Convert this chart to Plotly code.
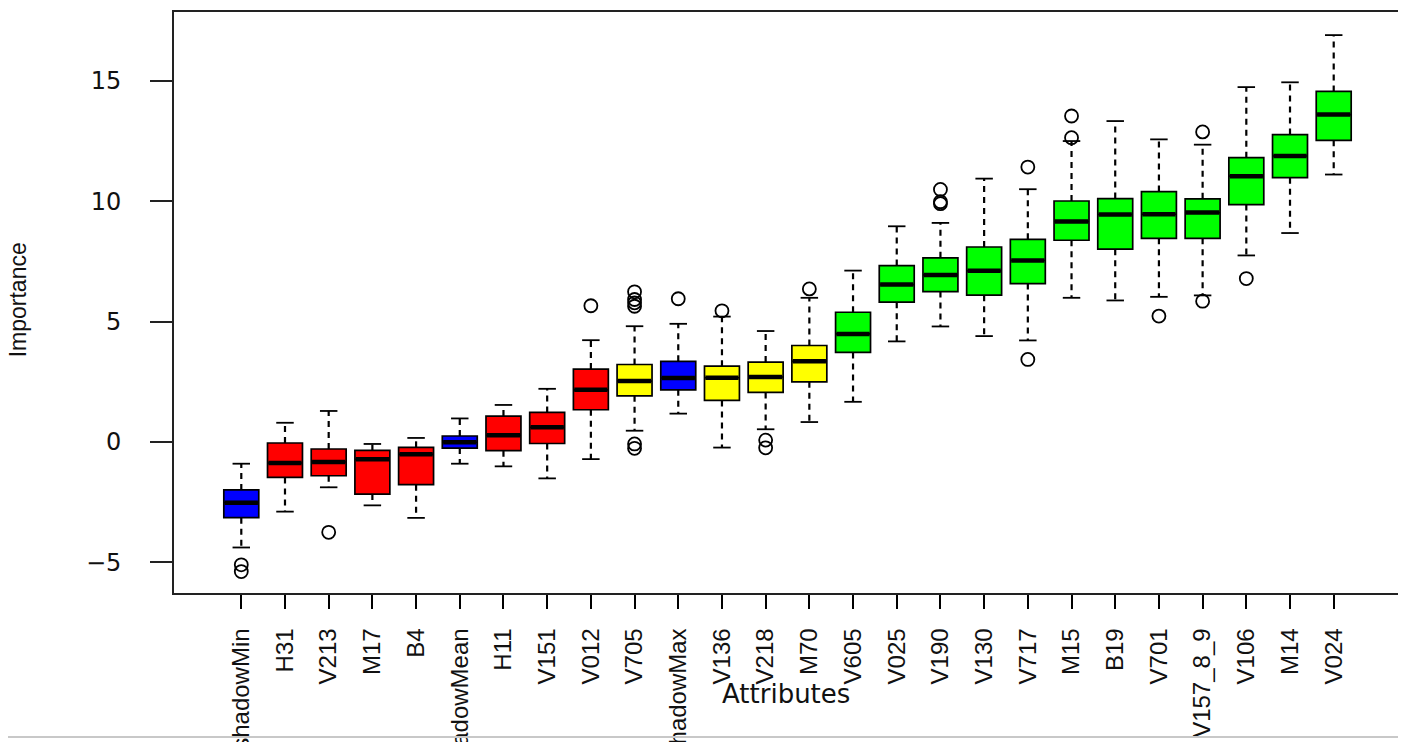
import plotly.graph_objects as go

# ---------------- data ----------------
attributes = ["shadowMin", "H31", "V213", "M17", "B4", "shadowMean", "H11", "V151",
              "V012", "V705", "shadowMax", "V136", "V218", "M70", "V605", "V025",
              "V190", "V130", "V717", "M15", "B19", "V701", "V157_8_9", "V106",
              "M14", "V024"]
decision = ["shadow", "rejected", "rejected", "rejected", "rejected", "shadow", "rejected",
            "rejected", "rejected", "tentative", "shadow", "tentative", "tentative",
            "tentative", "confirmed", "confirmed", "confirmed", "confirmed", "confirmed",
            "confirmed", "confirmed", "confirmed", "confirmed", "confirmed", "confirmed",
            "confirmed"]
lower_whisker = [-4.38, -2.89, -1.88, -2.63, -3.15, -0.90, -1.01, -1.51, -0.71, 0.47,
                 1.18, -0.23, 0.53, 0.83, 1.67, 4.18, 4.80, 4.40, 4.22, 5.99, 5.88,
                 6.03, 6.09, 7.75, 8.68, 11.11]
q1 = [-3.14, -1.47, -1.40, -2.16, -1.77, -0.25, -0.36, -0.06, 1.34, 1.92,
      2.17, 1.73, 2.06, 2.50, 3.72, 5.81, 6.25, 6.10, 6.58, 8.38, 8.01,
      8.46, 8.46, 9.86, 10.98, 12.53]
median = [-2.52, -0.87, -0.83, -0.72, -0.51, -0.01, 0.28, 0.61, 2.17, 2.53,
          2.66, 2.67, 2.70, 3.35, 4.49, 6.54, 6.94, 7.11, 7.54, 9.16, 9.45,
          9.46, 9.53, 11.04, 11.88, 13.60]
q3 = [-1.99, -0.04, -0.29, -0.35, -0.22, 0.25, 1.08, 1.23, 3.03, 3.22,
      3.35, 3.15, 3.32, 4.01, 5.39, 7.33, 7.65, 8.10, 8.42, 10.01, 10.11,
      10.40, 10.10, 11.81, 12.77, 14.56]
upper_whisker = [-0.90, 0.80, 1.29, -0.08, 0.17, 0.98, 1.54, 2.21, 4.23, 4.81,
                 4.91, 5.21, 4.61, 5.99, 7.12, 8.96, 9.10, 10.94, 10.50, 12.50, 13.33,
                 12.57, 12.35, 14.74, 14.94, 16.90]
outlier_attr = ["shadowMin", "shadowMin", "V213", "V012", "V705", "V705", "V705", "V705",
                "V705", "V705", "shadowMax", "V136", "V218", "V218", "M70", "V190",
                "V190", "V190", "V717", "V717", "M15", "M15", "V701", "V157_8_9",
                "V157_8_9", "V106"]
outlier_value = [-5.10, -5.38, -3.75, 5.66, 6.24, 5.92, 5.78, 5.64, -0.08, -0.26,
                 5.95, 5.45, 0.08, -0.24, 6.36, 10.49, 9.98, 9.90, 11.42, 3.43,
                 13.54, 12.64, 5.23, 12.88, 5.85, 6.79]

colour_of = {"shadow": "#0000FF", "rejected": "#FF0000",
             "tentative": "#FFFF00", "confirmed": "#00FF00"}

# ---------------- figure ----------------
fig = go.Figure()
pos = list(range(len(attributes)))
BW = 0.8      # box width (category units)
CAP = 0.2     # half-width of whisker staples

# dashed whiskers
wx, wy = [], []
for i in pos:
    wx += [i, i, None, i, i, None]
    wy += [q3[i], upper_whisker[i], None, q1[i], lower_whisker[i], None]
fig.add_trace(go.Scatter(x=wx, y=wy, mode="lines",
                         line=dict(color="black", width=2.2, dash="6px,5px"),
                         hoverinfo="skip", showlegend=False))

# staples
sx, sy = [], []
for i in pos:
    sx += [i - CAP, i + CAP, None, i - CAP, i + CAP, None]
    sy += [upper_whisker[i], upper_whisker[i], None, lower_whisker[i], lower_whisker[i], None]
fig.add_trace(go.Scatter(x=sx, y=sy, mode="lines",
                         line=dict(color="black", width=1.8),
                         hoverinfo="skip", showlegend=False))

# boxes
for i in pos:
    fig.add_trace(go.Box(
        x=[i], q1=[q1[i]], median=[median[i]], q3=[q3[i]],
        lowerfence=[q1[i]], upperfence=[q3[i]],
        width=BW, fillcolor=colour_of[decision[i]],
        line=dict(color="black", width=1.7),
        whiskerwidth=0, boxpoints=False, name=attributes[i], showlegend=False))

# thick medians
mx, my = [], []
for i in pos:
    mx += [i - BW / 2 + 0.02, i + BW / 2 - 0.02, None]
    my += [median[i], median[i], None]
fig.add_trace(go.Scatter(x=mx, y=my, mode="lines",
                         line=dict(color="black", width=4.5),
                         hoverinfo="skip", showlegend=False))

# outliers
ox = [attributes.index(a) for a in outlier_attr]
fig.add_trace(go.Scatter(x=ox, y=outlier_value, mode="markers",
                         marker=dict(symbol="circle-open", size=13, color="black",
                                     line=dict(width=1.8)),
                         hoverinfo="skip", showlegend=False))

fig.update_layout(
    width=1398, height=734,
    margin=dict(l=166, r=5, t=4, b=149),
    paper_bgcolor="white", plot_bgcolor="white",
    boxmode="overlay", showlegend=False,
    xaxis=dict(range=[-1.54, 26.54], tickmode="array", tickvals=pos, ticktext=attributes,
               tickangle=-90, ticks="outside", ticklen=14, tickwidth=1.5, tickcolor="black",
               showline=True, linecolor="#222", linewidth=1.6, mirror=True,
               showgrid=False, zeroline=False, automargin=False,
               ticklabelstandoff=10,
               tickfont=dict(family="Liberation Sans, Arial", size=24, color="#111")),
    yaxis=dict(range=[-6.27, 17.86], tickmode="array", tickvals=[-5, 0, 5, 10, 15],
               ticktext=["\u22125", "0", "5", "10", "15"],
               ticks="outside", ticklen=22, tickwidth=1.5, tickcolor="#222",
               showline=True, linecolor="#222", linewidth=1.6, mirror=True,
               showgrid=False, zeroline=False, automargin=False,
               ticklabelstandoff=24,
               tickfont=dict(family="DejaVu Sans", size=24, color="#111")),
)

fig.add_annotation(x=12.47, xref="x", y=-0.174, yref="paper", text="Attributes",
                   showarrow=False, xanchor="center", yanchor="middle",
                   font=dict(family="DejaVu Sans", size=26, color="#111"))
fig.add_annotation(x=-0.127, xref="paper", y=0.504, yref="paper", text="Importance",
                   showarrow=False, textangle=-90, xanchor="center", yanchor="middle",
                   font=dict(family="Liberation Sans, Arial", size=23, color="#111"))
fig.add_shape(type="line", xref="paper", yref="paper", x0=-0.2, x1=1.01,
              y0=-0.248, y1=-0.248, line=dict(color="#c8c8c8", width=2))

fig.write_html("out.html")
